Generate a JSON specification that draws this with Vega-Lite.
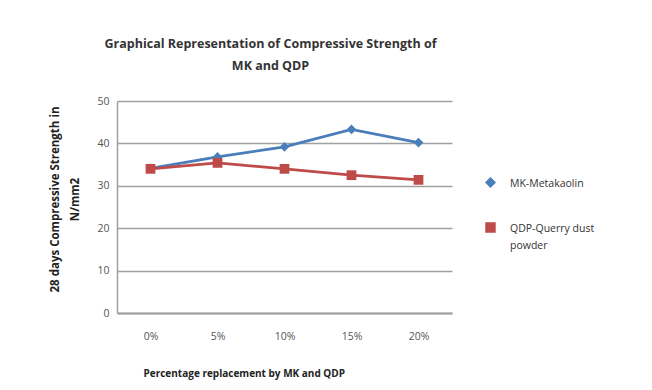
{
  "$schema": "https://vega.github.io/schema/vega-lite/v6.json",
  "width": 335,
  "height": 212,
  "autosize": {"type": "none"},
  "padding": {"left": 117, "top": 101, "right": 200, "bottom": 77},
  "background": "white",
  "title": {
    "text": ["Graphical Representation of Compressive Strength of", "MK and QDP"],
    "font": "Open Sans",
    "fontSize": 12.5,
    "fontWeight": "bold",
    "color": "#333333",
    "anchor": "middle",
    "dx": -14,
    "offset": 24,
    "lineHeight": 22
  },
  "data": {
    "values": [
      {"pct": "0%", "series": "MK-Metakaolin", "strength": 34.1},
      {"pct": "5%", "series": "MK-Metakaolin", "strength": 36.8},
      {"pct": "10%", "series": "MK-Metakaolin", "strength": 39.2},
      {"pct": "15%", "series": "MK-Metakaolin", "strength": 43.3},
      {"pct": "20%", "series": "MK-Metakaolin", "strength": 40.2},
      {"pct": "0%", "series": "QDP-Querry dust powder", "strength": 34.0},
      {"pct": "5%", "series": "QDP-Querry dust powder", "strength": 35.4},
      {"pct": "10%", "series": "QDP-Querry dust powder", "strength": 34.0},
      {"pct": "15%", "series": "QDP-Querry dust powder", "strength": 32.5},
      {"pct": "20%", "series": "QDP-Querry dust powder", "strength": 31.4}
    ]
  },
  "mark": {"type": "line", "strokeWidth": 2.8, "point": {"size": 95, "filled": true, "opacity": 1}},
  "encoding": {
    "x": {
      "field": "pct",
      "type": "ordinal",
      "sort": ["0%", "5%", "10%", "15%", "20%"],
      "scale": {"type": "point", "padding": 0.5},
      "axis": {
        "title": "Percentage replacement by MK and QDP",
        "titleFont": "Open Sans",
        "titleFontSize": 10,
        "titleFontWeight": "bold",
        "titleColor": "#222222",
        "titleAnchor": "start",
        "titleX": 26,
        "titleY": 55,
        "labelAngle": 0,
        "labelFont": "Open Sans",
        "labelFontSize": 10.5,
        "labelColor": "#555555",
        "labelPadding": 18,
        "ticks": false,
        "domainColor": "#a0a0a0",
        "domainWidth": 2
      }
    },
    "y": {
      "field": "strength",
      "type": "quantitative",
      "scale": {"domain": [0, 50]},
      "axis": {
        "values": [0, 10, 20, 30, 40, 50],
        "title": ["28  days Compressive Strength in", "N/mm2"],
        "titleFont": "Open Sans",
        "titleFontSize": 11.5,
        "titleFontWeight": "bold",
        "titleColor": "#222222",
        "titlePadding": 16,
        "titleLineHeight": 20,
        "titleY": 98,
        "labelFont": "Open Sans",
        "labelFontSize": 10.5,
        "labelColor": "#555555",
        "labelPadding": 8,
        "ticks": false,
        "grid": true,
        "gridColor": "#a0a0a0",
        "gridWidth": 1.5,
        "domainColor": "#a0a0a0",
        "domainWidth": 1.5
      }
    },
    "color": {
      "field": "series",
      "type": "nominal",
      "scale": {"domain": ["MK-Metakaolin", "QDP-Querry dust powder"], "range": ["#4a7ebb", "#be4b48"]},
      "legend": {
        "title": null,
        "orient": "none",
        "legendX": 368,
        "legendY": 76,
        "labelFont": "Open Sans",
        "labelFontSize": 10.5,
        "labelColor": "#333333",
        "labelOffset": 14,
        "rowPadding": 30,
        "labelExpr": "datum.label == 'QDP-Querry dust powder' ? ['QDP-Querry dust', 'powder'] : datum.label",
        "labelBaseline": "alphabetic",
        "symbolSize": 80,
        "encode": {"labels": {"update": {"lineHeight": {"value": 17}, "dy": {"value": 4}}}}
      }
    },
    "shape": {
      "field": "series",
      "type": "nominal",
      "scale": {"domain": ["MK-Metakaolin", "QDP-Querry dust powder"], "range": ["diamond", "square"]},
      "legend": null
    }
  },
  "config": {"view": {"stroke": null}}
}
